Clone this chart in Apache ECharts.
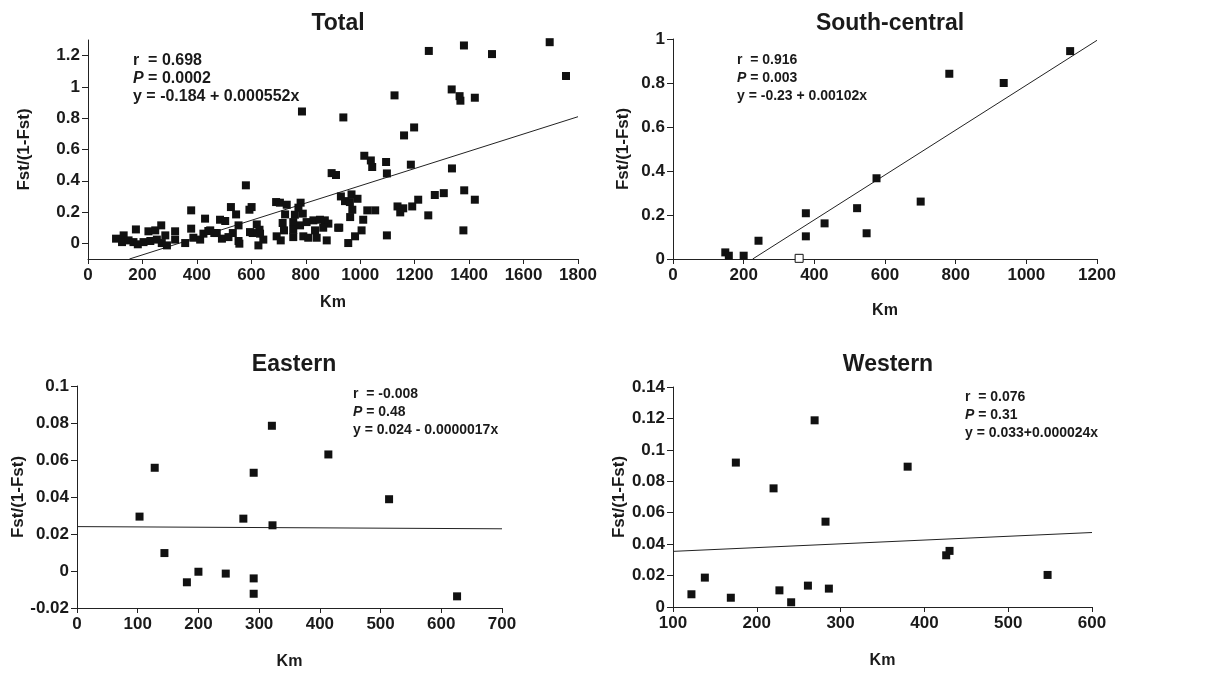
<!DOCTYPE html>
<html><head><meta charset="utf-8">
<script src="https://cdn.jsdelivr.net/npm/echarts@6/dist/echarts.min.js"></script>
<style>html,body{margin:0;padding:0;background:#fff}#c{width:1212px;height:673px}</style>
</head><body><div id="c"></div>
<script>
// ---------- DATA ----------
const titles = ['Total', 'South-central', 'Eastern', 'Western'];
const rValues = ['0.698', '0.916', '-0.008', '0.076'];
const pValues = ['0.0002', '0.003', '0.48', '0.31'];
const eqTexts = ['y = -0.184 + 0.000552x', 'y = -0.23 + 0.00102x', 'y = 0.024 - 0.0000017x', 'y = 0.033+0.000024x'];
const fitIntercept = [-0.184, -0.23, 0.024, 0.033];
const fitSlope = [0.000552, 0.00102, -0.0000017, 0.000024];

const totalKm = [786,938,1126,1252,1381,1484,1696,1756,1336,1365,1368,1421,1198,1161,1015,1039,1044,1095,1098,1186,1337,895,911,
  929,944,968,990,962,971,963,1026,1055,1011,923,1005,981,956,1098,1137,1147,1158,1191,1213,1250,1274,1307,1382,1379,1421,
  580,525,544,601,593,691,705,730,781,773,724,760,789,485,504,553,620,630,605,473,492,516,532,553,556,626,644,715,720,693,708,
  754,754,754,791,809,779,803,828,852,870,883,864,834,840,877,919,449,595,632,
  379,430,379,176,222,247,269,320,320,103,131,125,149,167,183,204,229,253,271,284,290,357,387,412,424,442,464];
const totalFst = [0.843,0.805,0.946,1.23,1.265,1.21,1.286,1.07,0.984,0.941,0.912,0.931,0.741,0.69,0.56,0.53,0.488,0.52,0.447,0.503,0.479,0.449,0.437,
  0.30,0.27,0.313,0.285,0.264,0.215,0.168,0.211,0.211,0.151,0.10,0.083,0.045,0.002,0.051,0.236,0.198,0.224,0.236,0.279,0.179,0.309,0.321,0.339,0.083,0.279,
  0.371,0.232,0.185,0.232,0.215,0.264,0.26,0.247,0.26,0.228,0.185,0.183,0.19,0.151,0.143,0.115,0.121,0.087,0.066,0.066,0.03,0.04,0.066,0.015,-0.002,-0.013,0.024,0.13,0.083,0.045,0.019,
  0.136,0.087,0.04,0.045,0.036,0.115,0.136,0.147,0.151,0.147,0.126,0.10,0.083,0.036,0.019,0.10,0.083,0.072,0.062,
  0.211,0.158,0.094,0.089,0.077,0.083,0.115,0.077,0.024,0.03,0.051,0.008,0.019,0.008,-0.006,0.008,0.015,0.024,0.002,0.051,-0.013,0.002,0.036,0.024,0.062,0.079,0.066];

const southKm  = [148,158,200,242,357,376,376,429,521,548,576,701,782,936,1124];
const southFst = [0.030,0.015,0.015,0.083,0.003,0.208,0.103,0.162,0.231,0.117,0.367,0.261,0.842,0.80,0.945];
const southOpen = [0,0,0,0,1,0,0,0,0,0,0,0,0,0,0];

const eastKm  = [103,128,144,181,200,245,274,291,291,291,321,322,414,514,626];
const eastFst = [0.0294,0.0558,0.0097,-0.0061,-0.0004,-0.0014,0.0283,0.0531,-0.004,-0.0123,0.0785,0.0247,0.063,0.0388,-0.0137];

const westKm  = [122,138,169,175,220,227,241,261,269,282,286,380,426,430,547];
const westFst = [0.0081,0.0187,0.0059,0.0919,0.0755,0.0106,0.003,0.0136,0.1188,0.0543,0.0117,0.0893,0.0329,0.0357,0.0204];

const xMin = [0, 0, 0, 100], xMax = [1800, 1200, 700, 600], xStep = [200, 200, 100, 100];
const yMin = [-0.1, 0, -0.02, 0], yMax = [1.3, 1, 0.1, 0.14], yStep = [0.2, 0.2, 0.02, 0.02];

// ---------- LAYOUT ----------
const grids = [
  {left: 88, top: 40, width: 490, height: 219},
  {left: 673, top: 39, width: 424, height: 220},
  {left: 77, top: 386, width: 425, height: 222},
  {left: 673, top: 387, width: 419, height: 220}
];
const yNameGap = [55, 41, 49, 41];
const xNameGap = [36, 44, 46, 46];
const titlePos = [[333, 7], [885, 7], [289, 348], [883, 348]];
const notePos = [[133, 52], [737, 51], [353, 385], [965, 388]];
const noteSize = [16, 14, 14, 14];

const FONT = '"Liberation Sans", Arial, sans-serif';
const scatterData = [
  totalKm.map((x, i) => [x, totalFst[i]]),
  southKm.map((x, i) => ({value: [x, southFst[i]], itemStyle: southOpen[i] ? {color: '#fff', borderColor: '#111', borderWidth: 1} : undefined})),
  eastKm.map((x, i) => [x, eastFst[i]]),
  westKm.map((x, i) => [x, westFst[i]])
];

function ticks(min, max, step) {
  const out = [];
  const start = Math.ceil(min / step - 1e-9) * step;
  for (let v = start; v <= max + 1e-9; v += step) out.push(+v.toFixed(6));
  return out;
}
function fitLine(i) {
  const a = fitIntercept[i], b = fitSlope[i];
  let x0 = xMin[i];
  if (a + b * x0 < yMin[i] && b > 0) x0 = (yMin[i] - a) / b;
  const x1 = xMax[i];
  return [[x0, a + b * x0], [x1, a + b * x1]];
}
const fmt = v => String(+(+v).toFixed(6));

const option = {
  animation: false,
  backgroundColor: '#fff',
  title: [], grid: [], xAxis: [], yAxis: [], series: []
};
for (let i = 0; i < 4; i++) {
  option.title.push({
    text: titles[i], left: titlePos[i][0], top: titlePos[i][1], textAlign: 'center',
    textStyle: {fontFamily: FONT, fontWeight: 'bold', fontSize: 23, color: '#1a1a1a'}
  });
  option.title.push({
    text: 'r  = ' + rValues[i] + '\n{i|P} = ' + pValues[i] + '\n' + eqTexts[i],
    left: notePos[i][0], top: notePos[i][1], padding: 0,
    textStyle: {fontFamily: FONT, fontWeight: 'bold', fontSize: noteSize[i], color: '#1a1a1a', lineHeight: 18,
      rich: {i: {fontFamily: FONT, fontWeight: 'bold', fontStyle: 'italic', fontSize: noteSize[i], color: '#1a1a1a', lineHeight: 18}}}
  });
  option.grid.push(Object.assign({containLabel: false}, grids[i]));
  const yt = ticks(yMin[i], yMax[i], yStep[i]);
  option.xAxis.push({
    type: 'value', gridIndex: i, min: xMin[i], max: xMax[i], interval: xStep[i],
    name: 'Km', nameLocation: 'middle', nameGap: xNameGap[i],
    nameTextStyle: {fontFamily: FONT, fontWeight: 'bold', fontSize: 16, color: '#1a1a1a'},
    axisLine: {onZero: false, lineStyle: {color: '#222', width: 1}},
    axisTick: {show: true, length: 5, lineStyle: {color: '#222'}},
    axisLabel: {fontFamily: FONT, fontWeight: 'bold', fontSize: 17, color: '#1a1a1a', margin: 8, formatter: fmt},
    splitLine: {show: false}
  });
  option.yAxis.push({
    type: 'value', gridIndex: i, min: yMin[i], max: yMax[i],
    name: 'Fst/(1-Fst)', nameLocation: 'middle', nameGap: yNameGap[i], nameRotate: 90,
    nameTextStyle: {fontFamily: FONT, fontWeight: 'bold', fontSize: 17, color: '#1a1a1a'},
    axisLine: {show: true, onZero: false, lineStyle: {color: '#222', width: 1}},
    axisTick: {show: true, length: 6, customValues: yt, lineStyle: {color: '#222'}},
    axisLabel: {fontFamily: FONT, fontWeight: 'bold', fontSize: 17, color: '#1a1a1a', margin: 8, customValues: yt, formatter: fmt},
    splitLine: {show: false}
  });
  option.series.push({
    type: 'scatter', xAxisIndex: i, yAxisIndex: i, symbol: 'rect', symbolSize: 8,
    itemStyle: {color: '#111', opacity: 1}, data: scatterData[i], z: 3
  });
  option.series.push({
    type: 'line', xAxisIndex: i, yAxisIndex: i, symbol: 'none',
    lineStyle: {color: '#222', width: 1}, data: fitLine(i), z: 2
  });
}
const chart = echarts.init(document.getElementById('c'), null, {renderer: 'canvas'});
chart.setOption(option);
</script>
</body></html>
